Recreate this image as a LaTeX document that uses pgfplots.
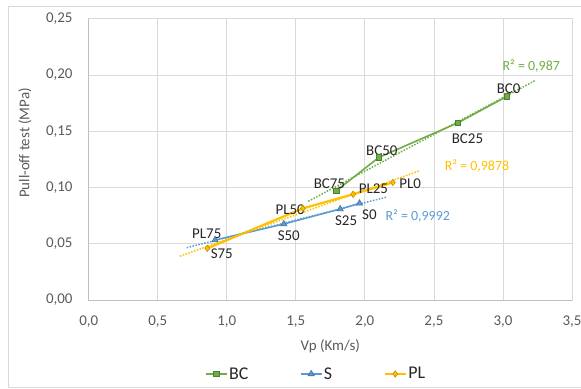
\documentclass[border=0pt]{standalone}
\usepackage{fontspec}
\setmainfont{Carlito}
\usepackage{pgfplots}
\pgfplotsset{compat=1.18}
\definecolor{cgreen}{HTML}{70AD47}
\definecolor{cgreend}{HTML}{4E7F31}
\definecolor{cblue}{HTML}{5B9BD5}
\definecolor{cblued}{HTML}{41719C}
\definecolor{cyel}{HTML}{FFC000}
\definecolor{cyeld}{HTML}{BF9000}
\definecolor{cgrid}{HTML}{D9D9D9}
\definecolor{caxis}{HTML}{BFBFBF}
\definecolor{ctick}{HTML}{595959}
\definecolor{clab}{HTML}{262626}
\newcommand{\fs}{\fontsize{15}{18}\selectfont}
\begin{document}
\begin{tikzpicture}
\useasboundingbox (-88.7bp,-89bp) rectangle (492.3bp,300bp);
\draw[cgrid, line width=0.75bp] (-80.7bp,-87bp) rectangle (520bp,294bp);
\begin{axis}[
  at={(0,0)}, anchor=south west, scale only axis,
  width=483.3bp, height=281.3bp,
  clip=false,
  xmin=0, xmax=3.5, ymin=0, ymax=0.25,
  xtick={0,0.5,1,1.5,2,2.5,3,3.5},
  ytick={0,0.05,0.1,0.15,0.2,0.25},
  /pgf/number format/assume math mode=true,
  /pgf/number format/use comma,
  xticklabel style={/pgf/number format/fixed, /pgf/number format/fixed zerofill, /pgf/number format/precision=1,
    anchor=north, inner sep=0pt, yshift=-16bp},
  yticklabel style={/pgf/number format/fixed, /pgf/number format/fixed zerofill, /pgf/number format/precision=2,
    anchor=east, inner sep=0pt, xshift=-16bp},
  ticklabel style={font=\fs, text=ctick},
  major tick length=0pt,
  grid=major,
  major grid style={draw=cgrid, line width=0.75bp},
  axis line style={draw=cgrid, line width=0.75bp},
  xlabel={Vp (Km/s)},
  label style={font=\fs, text=ctick},
  xlabel style={at={(axis description cs:0.5,0)}, anchor=center, yshift=-46.7bp},
  legend style={at={(axis description cs:0.470,-0.263)}, anchor=center,
    legend columns=3, draw=none, fill=none,
    font=\fontsize{18}{21}\selectfont, text=clab,
    /tikz/every even column/.append style={column sep=50bp},
    nodes={inner sep=1.5bp}},
  legend image code/.code={\draw[mark repeat=2,mark phase=2,#1] plot coordinates {(0bp,0bp) (10.5bp,0bp) (21bp,0bp)};},
]
% series
\addplot[cgreen, line width=1.6bp, mark=square*, mark size=2.8bp,
  mark options={fill=cgreen, draw=cgreend, line width=0.6bp, solid}]
  coordinates {(1.792,0.0970) (2.101,0.1267) (2.674,0.1575) (3.029,0.1810)};
\addlegendentry{BC}
\addplot[cblue, line width=1.5bp, mark=triangle*, mark size=3.6bp,
  mark options={fill=cblue, draw=cblued, line width=0.6bp, solid}]
  coordinates {(0.915,0.0533) (1.413,0.0675) (1.821,0.0808) (1.961,0.0859)};
\addlegendentry{S}
\addplot[cyel, line width=2.2bp, mark=diamond*, mark size=3.2bp,
  mark options={fill=cyel, draw=cyeld, line width=0.6bp, solid}]
  coordinates {(0.859,0.0459) (1.551,0.0814) (1.915,0.0940) (2.203,0.1045)};
\addlegendentry{PL}
% linear trendlines (fitted values at ends)
\addplot[cgreen, line width=1.5bp, dash pattern=on 1.5bp off 1.5bp, forget plot]
  coordinates {(1.59,0.08773) (3.23,0.19481)};
\addplot[cblue, line width=1.5bp, dash pattern=on 1.5bp off 1.5bp, forget plot]
  coordinates {(0.71,0.04648) (2.16,0.09153)};
\addplot[cyel, line width=1.5bp, dash pattern=on 1.5bp off 1.5bp, forget plot]
  coordinates {(0.66,0.03892) (2.40,0.11505)};
% axis lines left/bottom
\draw[caxis, line width=0.75bp] (rel axis cs:0,1) -- (rel axis cs:0,0) -- (rel axis cs:1,0);
% y axis title
\node[rotate=90, anchor=center, inner sep=0pt, font=\fs, text=ctick] at (rel axis cs:-0.1318,0.558) {Pull-off test (MPa)};
% data labels
\begin{scope}[every node/.style={font=\fs, text=clab, inner sep=0pt, anchor=center}]
\node at (axis cs:3.041,0.1880) {BC0};
\node at (axis cs:2.743,0.1436) {BC25};
\node at (axis cs:2.123,0.1326) {BC50};
\node at (axis cs:1.743,0.1036) {BC75};
\node at (axis cs:2.328,0.1030) {PL0};
\node at (axis cs:2.062,0.0986) {PL25};
\node at (axis cs:1.459,0.0806) {PL50};
\node at (axis cs:0.855,0.0592) {PL75};
\node at (axis cs:0.964,0.0415) {S75};
\node at (axis cs:2.033,0.0755) {S0};
\node at (axis cs:1.864,0.0704) {S25};
\node at (axis cs:1.449,0.0568) {S50};
\end{scope}
\begin{scope}[every node/.style={font=\fontsize{14}{17}\selectfont, inner sep=0pt, anchor=center}]
\node[text=cgreen] at (axis cs:3.205,0.2081) {R² = 0,987};
\node[text=cyel] at (axis cs:2.812,0.1193) {R² = 0,9878};
\node[text=cblue] at (axis cs:2.383,0.0749) {R² = 0,9992};
\end{scope}
\end{axis}
\end{tikzpicture}
\end{document}
